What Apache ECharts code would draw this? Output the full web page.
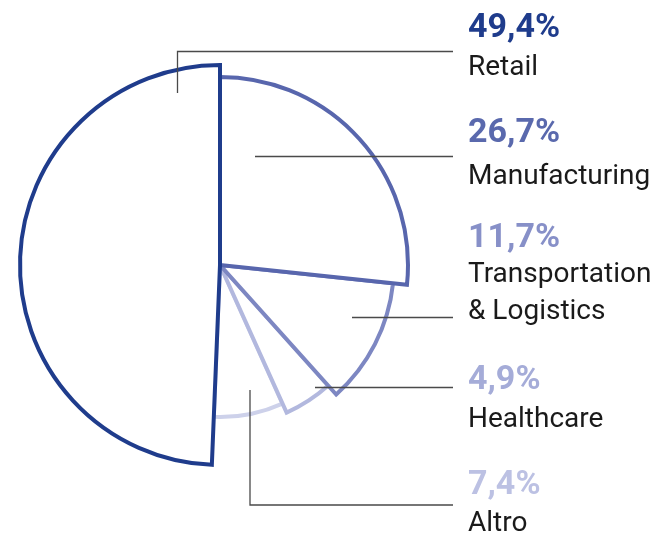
<!DOCTYPE html>
<html>
<head>
<meta charset="utf-8">
<script src="https://cdn.jsdelivr.net/npm/echarts@6/dist/echarts.min.js"></script>
<style>
  html, body { margin: 0; padding: 0; background: #fff; }
  #chart { width: 655px; height: 536px; }
</style>
</head>
<body>
<div id="chart"></div>
<script>
// data, clockwise from 12 o'clock
var categories = ["Manufacturing", "Transportation\n& Logistics", "Healthcare", "Altro", "Retail"];
var shares = [26.7, 11.7, 4.9, 7.4, 49.4];

// look
var strokeColors = ["#5866ad", "#7d87c2", "#b2b8de", "#cdd1ea", "#1f3c8c"];
var pctColors = ["#5a69ad", "#8790c8", "#a5acd8", "#bcc1e3", "#1f3c8c"];
var radii = [188, 174, 162, 152, 200];
var zOrder = [4, 3, 2, 1, 5];

var center = [220, 265];

// label blocks on the right: baseline of percent, baselines of name lines, leader line
var labelPos = [
    { pct: 145, names: [186.7], line: [[255, 156.5], [453, 156.5]] },
    { pct: 250, names: [285, 321.7], line: [[352, 317.5], [453, 317.5]] },
    { pct: 391.7, names: [430], line: [[315, 387.5], [453, 387.5]] },
    { pct: 496.7, names: [533.5], line: [[250, 390], [250, 505], [453, 505]] },
    { pct: 40, names: [77.7], line: [[177.5, 93], [177.5, 51.5], [453, 51.5]] }
];

var dom = document.getElementById("chart");
var myChart = echarts.init(dom, null, { renderer: "canvas" });

// one pie per slice so every slice can have its own radius
var series = categories.map(function (name, i) {
    return {
        type: "pie",
        name: name,
        center: center,
        radius: [0, radii[i]],
        startAngle: 90,
        clockwise: true,
        z: zOrder[i],
        silent: true,
        animation: false,
        avoidLabelOverlap: false,
        label: { show: false },
        labelLine: { show: false },
        emphasis: { disabled: true },
        data: shares.map(function (v, j) {
            return {
                name: categories[j],
                value: v,
                itemStyle: j === i
                    ? { color: "#ffffff", borderColor: strokeColors[i], borderWidth: 4, borderJoin: "miter" }
                    : { color: "rgba(0,0,0,0)", borderWidth: 0 }
            };
        })
    };
});

var graphics = [];
categories.forEach(function (name, i) {
    var p = labelPos[i];
    graphics.push({
        type: "polyline",
        silent: true,
        z: 10,
        shape: { points: p.line },
        style: { stroke: "#4a4a4a", lineWidth: 1.3, fill: null }
    });
    graphics.push({
        type: "text",
        silent: true,
        z: 10,
        x: 468,
        y: p.pct - 11.5,
        style: {
            text: shares[i].toFixed(1).replace(".", ",") + "%",
            font: "bold 34px Roboto",
            fill: pctColors[i],
            align: "left",
            verticalAlign: "middle"
        }
    });
    name.split("\n").forEach(function (line, k) {
        graphics.push({
            type: "text",
            silent: true,
            z: 10,
            x: 468,
            y: p.names[k] - 9.6,
            style: {
                text: line,
                font: "28px Roboto",
                fill: "#1a1a1a",
                align: "left",
                verticalAlign: "middle"
            }
        });
    });
});

var option = {
    backgroundColor: "#ffffff",
    animation: false,
    tooltip: { show: false },
    series: series,
    graphic: graphics
};

option && "object" == typeof option && myChart.setOption(option, !0);
</script>
</body>
</html>
